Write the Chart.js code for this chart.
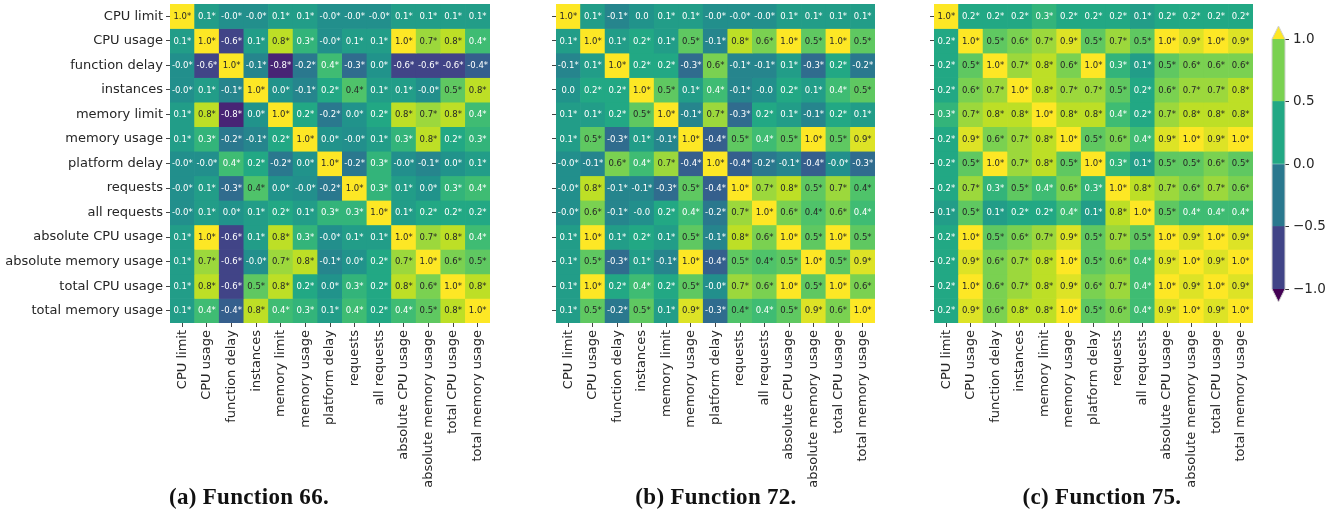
<!DOCTYPE html>
<html>
<head>
<meta charset="utf-8">
<script src="https://cdn.jsdelivr.net/npm/chart.js@4.4.1/dist/chart.umd.min.js"></script>
<style>
  body { margin: 0; background: #fff; width: 1341px; height: 517px; position: relative; overflow: hidden; }
  canvas { position: absolute; top: 0; }
  .caption { position: absolute; top: 484px; width: 300px; text-align: center; line-height: 27px;
             font: bold 23px 'Liberation Serif', serif; letter-spacing: 0.3px; color: #111; }
</style>
</head>
<body>
<canvas id="heat66" width="495" height="500" style="left:0px"></canvas>
<canvas id="heat72" width="380" height="500" style="left:500px"></canvas>
<canvas id="heat75" width="378" height="500" style="left:880px"></canvas>
<canvas id="colorbar" width="91" height="330" style="left:1250px"></canvas>
<div class="caption" style="left:99px">(a) Function 66.</div>
<div class="caption" style="left:566px">(b) Function 72.</div>
<div class="caption" style="left:952px">(c) Function 75.</div>
<script>
const metrics = ['CPU limit', 'CPU usage', 'function delay', 'instances', 'memory limit', 'memory usage',
  'platform delay', 'requests', 'all requests', 'absolute CPU usage', 'absolute memory usage',
  'total CPU usage', 'total memory usage'];

// correlation matrices, row = y label, column = x label ("-0.0" kept as -0.02)
const fn66 = [
  [1.0, 0.1, -0.02, -0.02, 0.1, 0.1, -0.02, -0.02, -0.02, 0.1, 0.1, 0.1, 0.1],
  [0.1, 1.0, -0.6, 0.1, 0.8, 0.3, -0.02, 0.1, 0.1, 1.0, 0.7, 0.8, 0.37],
  [-0.02, -0.6, 1.0, -0.1, -0.8, -0.2, 0.37, -0.3, 0.02, -0.6, -0.6, -0.6, -0.4],
  [-0.02, 0.1, -0.1, 1.0, 0.02, -0.1, 0.2, 0.44, 0.1, 0.1, -0.02, 0.5, 0.8],
  [0.1, 0.8, -0.8, 0.02, 1.0, 0.2, -0.2, 0.02, 0.2, 0.8, 0.7, 0.8, 0.37],
  [0.1, 0.3, -0.2, -0.1, 0.2, 1.0, 0.02, -0.02, 0.1, 0.3, 0.8, 0.2, 0.3],
  [-0.02, -0.02, 0.37, 0.2, -0.2, 0.02, 1.0, -0.2, 0.3, -0.02, -0.1, 0.02, 0.1],
  [-0.02, 0.1, -0.3, 0.44, 0.02, -0.02, -0.2, 1.0, 0.3, 0.1, 0.02, 0.3, 0.37],
  [-0.02, 0.1, 0.02, 0.1, 0.2, 0.1, 0.3, 0.3, 1.0, 0.1, 0.2, 0.2, 0.2],
  [0.1, 1.0, -0.6, 0.1, 0.8, 0.3, -0.02, 0.1, 0.1, 1.0, 0.7, 0.8, 0.37],
  [0.1, 0.7, -0.6, -0.02, 0.7, 0.8, -0.1, 0.02, 0.2, 0.7, 1.0, 0.6, 0.5],
  [0.1, 0.8, -0.6, 0.5, 0.8, 0.2, 0.02, 0.3, 0.2, 0.8, 0.6, 1.0, 0.8],
  [0.1, 0.37, -0.4, 0.8, 0.37, 0.3, 0.1, 0.37, 0.2, 0.37, 0.5, 0.8, 1.0]
];
const fn72 = [
  [1.0, 0.1, -0.1, 0.02, 0.1, 0.1, -0.02, -0.02, -0.02, 0.1, 0.1, 0.1, 0.1],
  [0.1, 1.0, 0.1, 0.2, 0.1, 0.5, -0.1, 0.8, 0.6, 1.0, 0.5, 1.0, 0.5],
  [-0.1, 0.1, 1.0, 0.2, 0.2, -0.3, 0.6, -0.1, -0.1, 0.1, -0.3, 0.2, -0.2],
  [0.02, 0.2, 0.2, 1.0, 0.5, 0.1, 0.37, -0.1, -0.02, 0.2, 0.1, 0.37, 0.5],
  [0.1, 0.1, 0.2, 0.5, 1.0, -0.1, 0.7, -0.3, 0.2, 0.1, -0.1, 0.2, 0.1],
  [0.1, 0.5, -0.3, 0.1, -0.1, 1.0, -0.4, 0.5, 0.37, 0.5, 1.0, 0.5, 0.9],
  [-0.02, -0.1, 0.6, 0.37, 0.7, -0.4, 1.0, -0.4, -0.2, -0.1, -0.4, -0.02, -0.3],
  [-0.02, 0.8, -0.1, -0.1, -0.3, 0.5, -0.4, 1.0, 0.7, 0.8, 0.5, 0.7, 0.44],
  [-0.02, 0.6, -0.1, -0.02, 0.2, 0.37, -0.2, 0.7, 1.0, 0.6, 0.44, 0.6, 0.37],
  [0.1, 1.0, 0.1, 0.2, 0.1, 0.5, -0.1, 0.8, 0.6, 1.0, 0.5, 1.0, 0.5],
  [0.1, 0.5, -0.3, 0.1, -0.1, 1.0, -0.4, 0.5, 0.44, 0.5, 1.0, 0.5, 0.9],
  [0.1, 1.0, 0.2, 0.37, 0.2, 0.5, -0.02, 0.7, 0.6, 1.0, 0.5, 1.0, 0.6],
  [0.1, 0.5, -0.2, 0.5, 0.1, 0.9, -0.3, 0.44, 0.37, 0.5, 0.9, 0.6, 1.0]
];
const fn75 = [
  [1.0, 0.2, 0.2, 0.2, 0.3, 0.2, 0.2, 0.2, 0.1, 0.2, 0.2, 0.2, 0.2],
  [0.2, 1.0, 0.5, 0.6, 0.7, 0.9, 0.5, 0.7, 0.5, 1.0, 0.9, 1.0, 0.9],
  [0.2, 0.5, 1.0, 0.7, 0.8, 0.6, 1.0, 0.3, 0.1, 0.5, 0.6, 0.6, 0.6],
  [0.2, 0.6, 0.7, 1.0, 0.8, 0.7, 0.7, 0.5, 0.2, 0.6, 0.7, 0.7, 0.8],
  [0.3, 0.7, 0.8, 0.8, 1.0, 0.8, 0.8, 0.37, 0.2, 0.7, 0.8, 0.8, 0.8],
  [0.2, 0.9, 0.6, 0.7, 0.8, 1.0, 0.5, 0.6, 0.37, 0.9, 1.0, 0.9, 1.0],
  [0.2, 0.5, 1.0, 0.7, 0.8, 0.5, 1.0, 0.3, 0.1, 0.5, 0.5, 0.6, 0.5],
  [0.2, 0.7, 0.3, 0.5, 0.37, 0.6, 0.3, 1.0, 0.8, 0.7, 0.6, 0.7, 0.6],
  [0.1, 0.5, 0.1, 0.2, 0.2, 0.37, 0.1, 0.8, 1.0, 0.5, 0.37, 0.37, 0.37],
  [0.2, 1.0, 0.5, 0.6, 0.7, 0.9, 0.5, 0.7, 0.5, 1.0, 0.9, 1.0, 0.9],
  [0.2, 0.9, 0.6, 0.7, 0.8, 1.0, 0.5, 0.6, 0.37, 0.9, 1.0, 0.9, 1.0],
  [0.2, 1.0, 0.6, 0.7, 0.8, 0.9, 0.6, 0.7, 0.37, 1.0, 0.9, 1.0, 0.9],
  [0.2, 0.9, 0.6, 0.8, 0.8, 1.0, 0.5, 0.6, 0.37, 0.9, 1.0, 0.9, 1.0]
];
// cells printed without the significance star
const fn66NotSig = [];
const fn72NotSig = [[0, 3], [3, 0], [3, 8], [8, 3]];
const fn75NotSig = [];

const cbBounds = [-1, -0.5, 0, 0.5, 1];
const cbTicks = [1, 0.5, 0, -0.5, -1];

// matplotlib viridis sampled at 0, 0.1, ... 1.0
const VIRIDIS = ['#440154', '#482475', '#414487', '#355f8d', '#2a788e', '#21918c',
  '#22a884', '#44bf70', '#7ad151', '#bddf26', '#fde725'].map(h => [1, 3, 5].map(i => parseInt(h.substr(i, 2), 16)));

const viridisRgb = (t) => {
  t = Math.min(1, Math.max(0, t)) * 10;
  const i = Math.min(9, Math.floor(t)), f = t - i;
  return VIRIDIS[i].map((c, k) => Math.round(c + (VIRIDIS[i + 1][k] - c) * f));
};
const viridis = (t) => 'rgb(' + viridisRgb(t).join(',') + ')';

// same rule as seaborn: dark text on bright cells
const textColor = (v) => {
  const lin = viridisRgb((v + 1) / 2).map(c => {
    c /= 255;
    return c <= 0.03928 ? c / 12.92 : Math.pow((c + 0.055) / 1.055, 2.4);
  });
  const lum = 0.2126 * lin[0] + 0.7152 * lin[1] + 0.0722 * lin[2];
  return lum > 0.408 ? '#262626' : '#ffffff';
};

const cellText = (values, notSig) => ({
  id: 'cellText',
  afterDatasetsDraw(chart) {
    const ctx = chart.ctx;
    ctx.save();
    ctx.font = '8.5px "DejaVu Sans"';
    ctx.textAlign = 'center';
    ctx.textBaseline = 'middle';
    values.forEach((row, r) => {
      chart.getDatasetMeta(r).data.forEach((bar, c) => {
        const v = row[c];
        const star = notSig.some(([a, b]) => a === r && b === c) ? '' : '*';
        ctx.fillStyle = textColor(v);
        ctx.fillText(v.toFixed(1) + star, bar.x, (bar.y + bar.base) / 2 + 0.5);
      });
    });
    ctx.restore();
  }
});

const tickFont = { family: 'DejaVu Sans', size: 13 };

const makeHeatmap = (id, values, notSig, showYLabels, yWidth) => {
  const ctx = document.getElementById(id).getContext('2d');
  return new Chart(ctx, {
    type: 'bar',
    data: {
      labels: metrics,
      datasets: values.map((row, r) => ({
        data: row.map(() => [r, r + 1]),
        backgroundColor: row.map(v => viridis((v + 1) / 2)),
        grouped: false,
        barPercentage: 1,
        categoryPercentage: 1,
        borderWidth: 0
      }))
    },
    options: {
      responsive: false,
      animation: false,
      layout: { padding: { top: 4, right: 5, left: 0, bottom: 0 } },
      plugins: { legend: { display: false }, tooltip: { enabled: false } },
      scales: {
        x: {
          grid: { display: true, drawOnChartArea: false, offset: false, tickLength: 4, color: '#444' },
          border: { display: false },
          ticks: { minRotation: 90, maxRotation: 90, autoSkip: false, padding: 3, color: '#262626', font: tickFont },
          afterFit: (s) => { s.height = 177; s.paddingLeft = 0; s.paddingRight = 0; }
        },
        y: {
          type: 'linear',
          min: 0,
          max: metrics.length,
          reverse: true,
          afterBuildTicks: (s) => { s.ticks = metrics.map((_, i) => ({ value: i + 0.5 })); },
          grid: { display: true, drawOnChartArea: false, tickLength: 4, color: '#444' },
          border: { display: false },
          ticks: {
            autoSkip: false, padding: 3, color: '#262626', font: tickFont,
            callback: (v, i) => showYLabels ? metrics[i] : ''
          },
          afterFit: (s) => { s.width = yWidth; s.paddingTop = 0; s.paddingBottom = 0; }
        }
      }
    },
    plugins: [cellText(values, notSig)]
  });
};

const cbExtends = {
  id: 'cbExtends',
  afterDatasetsDraw(chart) {
    const { ctx, chartArea: a, scales: { y } } = chart;
    const top = y.getPixelForValue(1), bot = y.getPixelForValue(-1);
    const mid = (a.left + a.right) / 2, h = 13;
    ctx.save();
    ctx.fillStyle = viridis(1);
    ctx.beginPath(); ctx.moveTo(a.left, top); ctx.lineTo(mid, top - h); ctx.lineTo(a.right, top); ctx.closePath(); ctx.fill();
    ctx.fillStyle = viridis(0);
    ctx.beginPath(); ctx.moveTo(a.left, bot); ctx.lineTo(mid, bot + h); ctx.lineTo(a.right, bot); ctx.closePath(); ctx.fill();
    ctx.beginPath();
    ctx.moveTo(a.left, top); ctx.lineTo(mid, top - h); ctx.lineTo(a.right, top);
    ctx.lineTo(a.right, bot); ctx.lineTo(mid, bot + h); ctx.lineTo(a.left, bot); ctx.closePath();
    ctx.strokeStyle = '#cfcfcf';
    ctx.lineWidth = 1;
    ctx.stroke();
    ctx.restore();
  }
};

const makeColorbar = () => {
  const ctx = document.getElementById('colorbar').getContext('2d');
  return new Chart(ctx, {
    type: 'bar',
    data: {
      labels: [''],
      datasets: cbBounds.slice(0, -1).map((lo, i) => ({
        data: [[lo, cbBounds[i + 1]]],
        backgroundColor: viridis((i + 1) / (cbBounds.length)),
        grouped: false,
        barPercentage: 1,
        categoryPercentage: 1,
        borderWidth: 0
      }))
    },
    options: {
      responsive: false,
      animation: false,
      layout: { padding: { top: 39, bottom: 41, left: 22, right: 0 } },
      plugins: { legend: { display: false }, tooltip: { enabled: false } },
      scales: {
        x: { display: false },
        y: {
          position: 'right',
          min: -1,
          max: 1,
          afterBuildTicks: (s) => { s.ticks = cbTicks.map(v => ({ value: v })); },
          grid: { display: true, drawOnChartArea: false, tickLength: 4, color: '#333' },
          border: { display: false },
          ticks: {
            padding: 4, color: '#262626', font: { family: 'DejaVu Sans', size: 13.5 },
            callback: (v) => (v < 0 ? '\u2212' : '') + Math.abs(v).toFixed(1)
          },
          afterFit: (s) => { s.width = 56; s.paddingTop = 0; s.paddingBottom = 0; }
        }
      }
    },
    plugins: [cbExtends]
  });
};

makeHeatmap('heat66', fn66, fn66NotSig, true, 170);
makeHeatmap('heat72', fn72, fn72NotSig, false, 56);
makeHeatmap('heat75', fn75, fn75NotSig, false, 54);
makeColorbar();
</script>
</body>
</html>
